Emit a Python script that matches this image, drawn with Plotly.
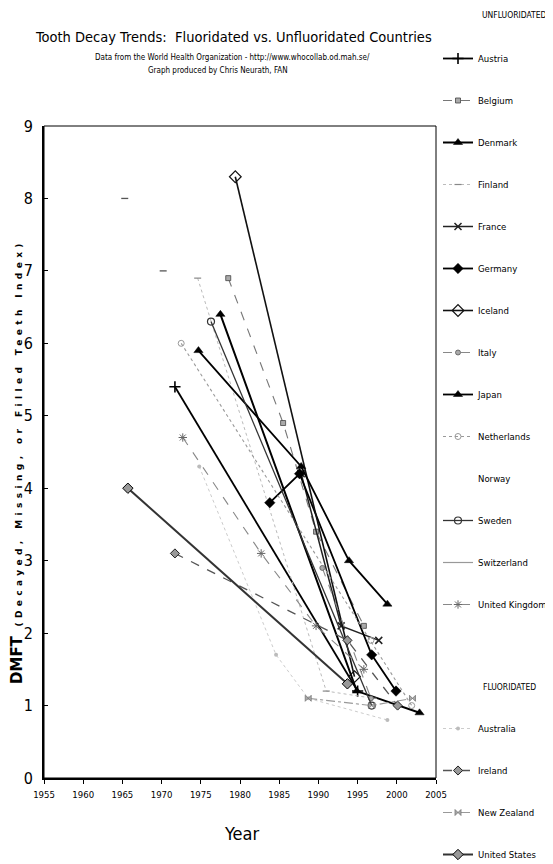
import plotly.graph_objects as go

FONT = "Liberation Sans Narrow, Arial Narrow, DejaVu Sans Condensed, sans-serif"

# ---------------- data ----------------
x_ticks = [1955, 1960, 1965, 1970, 1975, 1980, 1985, 1990, 1995, 2000, 2005]
y_ticks = [0, 1, 2, 3, 4, 5, 6, 7, 8, 9]

unfluoridated = ["Austria", "Belgium", "Denmark", "Finland", "France", "Germany",
                 "Iceland", "Italy", "Japan", "Netherlands", "Norway", "Sweden",
                 "Switzerland", "United Kingdom"]
fluoridated = ["Australia", "Ireland", "New Zealand", "United States"]

austria_year = [1971.7, 1995.0]
austria_dmft = [5.4, 1.2]
belgium_year = [1978.5, 1985.5, 1989.7, 1995.8]
belgium_dmft = [6.9, 4.9, 3.4, 2.1]
denmark_year = [1977.5, 1994.9, 2002.9]
denmark_dmft = [6.4, 1.2, 0.9]
finland_year = [1974.6, 1991.0, 1997.0]
finland_dmft = [6.9, 1.2, 1.1]
france_year = [1987.8, 1992.9, 1997.7]
france_dmft = [4.2, 2.1, 1.9]
germany_year = [1983.8, 1987.6, 1996.8, 1999.9]
germany_dmft = [3.8, 4.2, 1.7, 1.2]
iceland_year = [1979.4, 1994.6]
iceland_dmft = [8.3, 1.4]
italy_year = [1990.5, 1996.7]
italy_dmft = [2.9, 1.1]
japan_year = [1974.7, 1987.8, 1993.9, 1998.8]
japan_dmft = [5.9, 4.3, 3.0, 2.4]
netherlands_year = [1972.5, 1996.7, 2001.9]
netherlands_dmft = [6.0, 1.9, 1.0]
norway_year = [None]
norway_dmft = [None]
sweden_year = [1976.3, 1996.8]
sweden_dmft = [6.3, 1.0]
switzerland_year = [1965.3, 1970.2]
switzerland_dmft = [8.0, 7.0]
uk_year = [1972.7, 1982.7, 1989.7, 1995.8]
uk_dmft = [4.7, 3.1, 2.1, 1.5]

australia_year = [1974.8, 1984.6, 1988.7, 1998.8]
australia_dmft = [4.3, 1.7, 1.1, 0.8]
ireland_year = [1971.7, 1993.7, 2000.1]
ireland_dmft = [3.1, 1.9, 1.0]
nz_year = [1988.7, 1996.8, 2002.0]
nz_dmft = [1.1, 1.0, 1.1]
us_year = [1965.7, 1993.7]
us_dmft = [4.0, 1.3]

# ---------------- styles ----------------
styles = {
    "Austria": dict(x=austria_year, y=austria_dmft, lc="#000", lw=1.8, dash="solid",
                    sym="cross-thin", ms=8, mc="#000", mlc="#000", mlw=1.6),
    "Belgium": dict(x=belgium_year, y=belgium_dmft, lc="#777", lw=1.1, dash="dash",
                    sym="square", ms=5, mc="#aaa", mlc="#444", mlw=0.8),
    "Denmark": dict(x=denmark_year, y=denmark_dmft, lc="#000", lw=2.0, dash="solid",
                    sym="triangle-up", ms=8, mc="#000", mlc="#000", mlw=0.5),
    "Finland": dict(x=finland_year, y=finland_dmft, lc="#bbb", lw=1.0, dash="dot",
                    sym="line-ew-open", ms=5, mc="#888", mlc="#888", mlw=1.2),
    "France": dict(x=france_year, y=france_dmft, lc="#222", lw=1.5, dash="solid",
                   sym="x-thin", ms=7, mc="#222", mlc="#222", mlw=1.5),
    "Germany": dict(x=germany_year, y=germany_dmft, lc="#000", lw=1.8, dash="solid",
                    sym="diamond", ms=8, mc="#000", mlc="#000", mlw=0.5),
    "Iceland": dict(x=iceland_year, y=iceland_dmft, lc="#111", lw=1.6, dash="solid",
                    sym="diamond-open", ms=9, mc="#111", mlc="#111", mlw=1.2),
    "Italy": dict(x=italy_year, y=italy_dmft, lc="#888", lw=1.1, dash="dash",
                  sym="circle", ms=5, mc="#aaa", mlc="#555", mlw=0.8),
    "Japan": dict(x=japan_year, y=japan_dmft, lc="#000", lw=1.8, dash="solid",
                  sym="triangle-up", ms=8, mc="#000", mlc="#000", mlw=0.5),
    "Netherlands": dict(x=netherlands_year, y=netherlands_dmft, lc="#999", lw=1.1, dash="dot",
                        sym="circle-open", ms=6, mc="#999", mlc="#999", mlw=1.0),
    "Norway": dict(x=norway_year, y=norway_dmft, lc="rgba(0,0,0,0)", lw=1, dash="solid",
                   sym="circle", ms=1, mc="rgba(0,0,0,0)", mlc="rgba(0,0,0,0)", mlw=0),
    "Sweden": dict(x=sweden_year, y=sweden_dmft, lc="#333", lw=1.3, dash="solid",
                   sym="circle-open", ms=7, mc="#333", mlc="#333", mlw=1.2),
    "United Kingdom": dict(x=uk_year, y=uk_dmft, lc="#888", lw=1.1, dash="dash",
                           sym="asterisk-open", ms=7, mc="#666", mlc="#666", mlw=1.0),
    "Australia": dict(x=australia_year, y=australia_dmft, lc="#ccc", lw=1.0, dash="dot",
                      sym="circle", ms=4, mc="#bbb", mlc="#bbb", mlw=0),
    "Ireland": dict(x=ireland_year, y=ireland_dmft, lc="#555", lw=1.3, dash="dash",
                    sym="diamond", ms=7, mc="#999", mlc="#222", mlw=1.0),
    "New Zealand": dict(x=nz_year, y=nz_dmft, lc="#999", lw=1.1, dash="dashdot",
                        sym="bowtie", ms=6, mc="#aaa", mlc="#777", mlw=0.8),
    "United States": dict(x=us_year, y=us_dmft, lc="#333", lw=2.0, dash="solid",
                          sym="diamond", ms=8, mc="#999", mlc="#000", mlw=1.0),
}

fig = go.Figure()


def add_series(name, legend):
    if name == "Switzerland":
        fig.add_trace(go.Scatter(x=switzerland_year, y=switzerland_dmft, mode="markers",
                                 marker=dict(symbol="line-ew-open", size=5, color="#555",
                                             line=dict(color="#555", width=1.3)),
                                 showlegend=False, hoverinfo="skip"))
        fig.add_trace(go.Scatter(x=[None], y=[None], mode="lines", name=name,
                                 line=dict(color="#999", width=1.2),
                                 legend=legend, legendgroup=name))
        return
    s = styles[name]
    fig.add_trace(go.Scatter(
        x=s["x"], y=s["y"], mode="lines+markers", name=name,
        line=dict(color=s["lc"], width=s["lw"], dash=s["dash"]),
        marker=dict(symbol=s["sym"], size=s["ms"], color=s["mc"],
                    line=dict(color=s["mlc"], width=s["mlw"])),
        legend=legend, legendgroup=name))


for c in unfluoridated:
    add_series(c, "legend")
for c in fluoridated:
    add_series(c, "legend2")

# The page adds an 8px body margin, so the figure is 8px smaller than the window
OFF = 8
W, H = 553 - OFF, 864 - OFF
# plot area in page pixels: x 44..436, y 126..778
PX0, PX1, PY0, PY1 = 44, 436, 126, 778
L, T = PX0 - OFF, PY0 - OFF
R, B = W - (PX1 - OFF), H - (PY1 - OFF)
pw, ph = PX1 - PX0, PY1 - PY0


def px(xp):
    return (xp - PX0) / pw


def py(yp):
    return (PY1 - yp) / ph


annotations = [
    dict(text="Tooth Decay Trends:  Fluoridated vs. Unfluoridated Countries",
         x=px(233), y=py(37), font=dict(size=14.5, family=FONT, color="#000")),
    dict(text="Data from the World Health Organization - http://www.whocollab.od.mah.se/",
         x=px(232), y=py(58), font=dict(size=8, family=FONT, color="#000")),
    dict(text="Graph produced by Chris Neurath, FAN",
         x=px(218), y=py(71), font=dict(size=8, family=FONT, color="#000")),
    dict(text="Year", x=px(241), y=py(833), font=dict(size=18, family=FONT, color="#000")),
    dict(text="UNFLUORIDATED", x=px(514), y=py(15), font=dict(size=8.5, family=FONT, color="#000")),
    dict(text="FLUORIDATED", x=px(509), y=py(687), font=dict(size=8.5, family=FONT, color="#000")),
    dict(text="<b>DMFT</b>  <span style='font-size:9px;letter-spacing:4.4px'><b>(Decayed, Missing, or Filled Teeth Index)</b></span>",
         x=px(17), y=py(462), textangle=-90,
         font=dict(size=15, family="DejaVu Sans, Arial, sans-serif", color="#000")),
]
for a in annotations:
    a.update(xref="paper", yref="paper", showarrow=False, xanchor="center", yanchor="middle")

legend_common = dict(xref="container", yref="container", xanchor="left", yanchor="top",
                     itemwidth=30, tracegroupgap=23, maxheight=1.0,
                     font=dict(size=9.5, family=FONT, color="#000"), bgcolor="rgba(0,0,0,0)")

fig.update_layout(
    width=W, height=H,
    margin=dict(l=L, r=R, t=T, b=B, pad=0, autoexpand=False),
    paper_bgcolor="white", plot_bgcolor="white",
    annotations=annotations,
    xaxis=dict(range=[1955, 2005], tickvals=x_ticks, ticktext=[str(v) for v in x_ticks],
               showgrid=False, zeroline=False, showline=True, linecolor="#000", linewidth=2,
               ticks="outside", ticklen=4, tickcolor="#000", automargin=False,
               ticklabelstandoff=3,
               tickfont=dict(size=9.5, family=FONT, color="#000")),
    yaxis=dict(range=[0, 9], tickvals=y_ticks, showgrid=False, zeroline=False,
               showline=True, linecolor="#000", linewidth=2,
               ticks="inside", ticklen=4, tickcolor="#000", automargin=False,
               ticklabelstandoff=6,
               tickfont=dict(size=16, family=FONT, color="#000")),
    shapes=[dict(type="rect", xref="paper", yref="paper", x0=0, y0=0, x1=1, y1=1,
                 line=dict(color="#000", width=1))],
    legend=dict(x=(438 - OFF) / W, y=1 - (44 - OFF) / H, **legend_common),
    legend2=dict(x=(438 - OFF) / W, y=1 - (714 - OFF) / H, **legend_common),
    showlegend=True,
)

fig.write_html("out.html")
